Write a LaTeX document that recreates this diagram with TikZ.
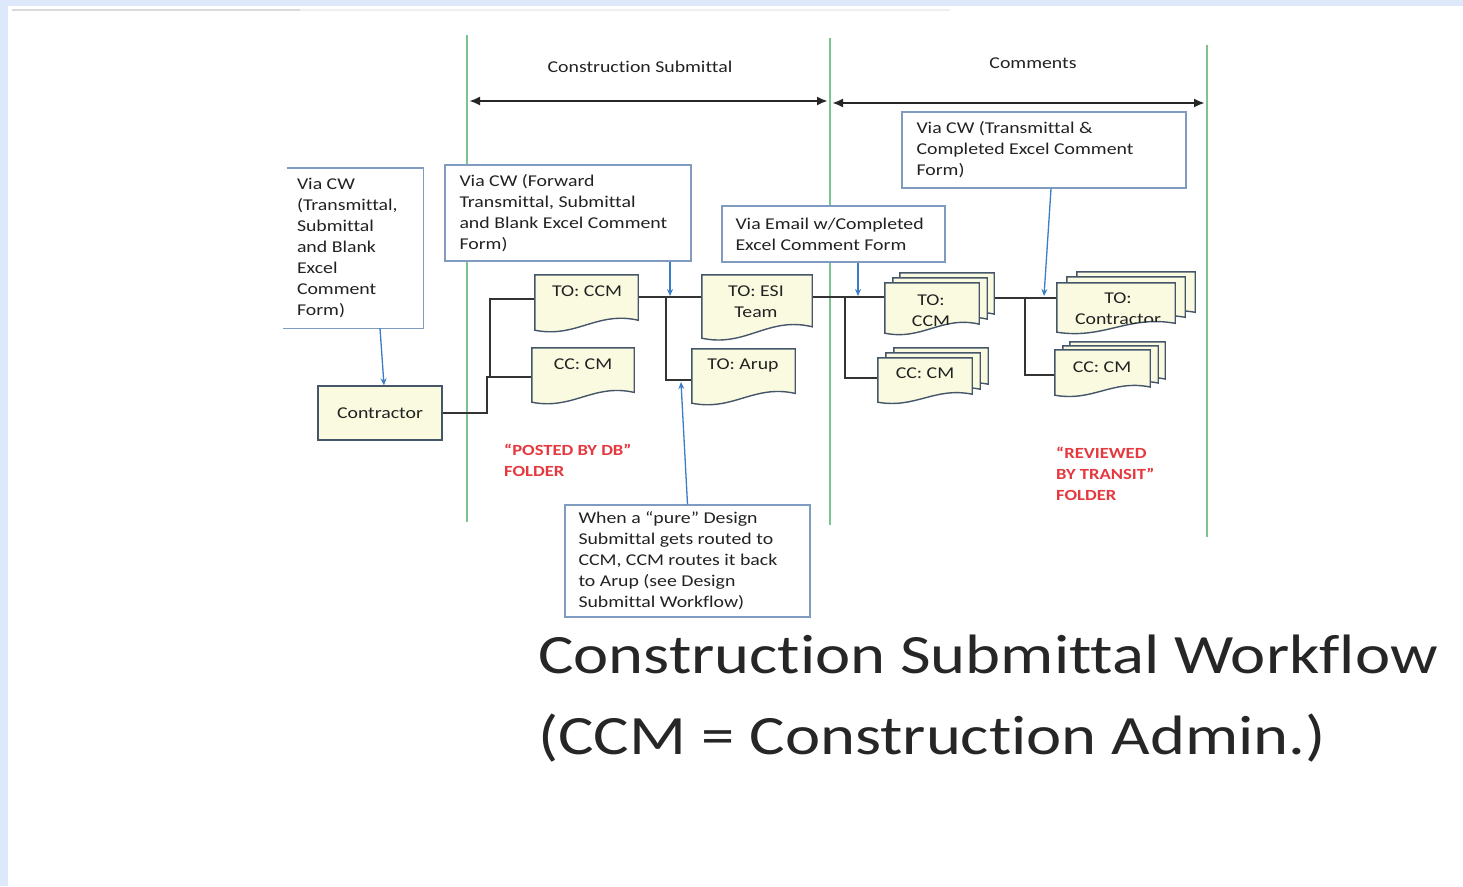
\documentclass[tikz,border=0pt]{standalone}
\usepackage{fontspec}
\setmainfont{Carlito}[FakeStretch=1.2, Ligatures=NoCommon]
\usetikzlibrary{arrows.meta,calc}

\definecolor{pagebg}{HTML}{DDE9FA}
\definecolor{lanegreen}{HTML}{7CC48F}
\definecolor{boxedge}{HTML}{7F9CC0}
\definecolor{docedge}{HTML}{46566A}
\definecolor{docfill}{HTML}{FAFAE0}
\definecolor{flowblue}{HTML}{3A7DC6}
\definecolor{folderred}{HTML}{E5393F}
\definecolor{wirecol}{HTML}{333333}
\definecolor{inkcol}{HTML}{222222}

% document outline (flat top, wavy bottom) built from a node's corners,
% optionally offset by (#3pt, #4pt)
\newcommand\docoutline[4]{%
  \path[#2] let \p1=($(#1.north west)+(#3pt,#4pt)$), \p2=($(#1.south east)+(#3pt,#4pt)$) in
    (\x1,\y1) -- (\x2,\y1) -- (\x2,{\y2+0.18*((\y1)-(\y2))})
    .. controls ({\x1+0.6*((\x2)-(\x1))},{\y2+0.35*((\y1)-(\y2))})
           and ({\x1+0.4*((\x2)-(\x1))},{\y2-0.15*((\y1)-(\y2))}) .. (\x1,\y2) -- cycle;}
\newcommand\docclip[1]{%
  \clip let \p1=(#1.north west), \p2=(#1.south east) in
    (\x1,\y1) -- (\x2,\y1) -- (\x2,{\y2+0.18*((\y1)-(\y2))})
    .. controls ({\x1+0.6*((\x2)-(\x1))},{\y2+0.35*((\y1)-(\y2))})
           and ({\x1+0.4*((\x2)-(\x1))},{\y2-0.15*((\y1)-(\y2))}) .. (\x1,\y2) -- cycle;}
% a stack of three documents, back copies offset up and to the right
\newcommand\docstack[5]{%
  \docoutline{#1}{docbody}{#4}{#5}%
  \docoutline{#1}{docbody}{#2}{#3}%
  \docoutline{#1}{docbody}{0}{0}}

\tikzset{
  lane/.style={draw=lanegreen, line width=2.5pt},
  span/.style={draw=black!85, line width=2.5pt, {Latex[length=11pt,width=9pt]}-{Latex[length=11pt,width=9pt]}},
  hdr/.style={font=\fontsize{16.5}{21}\selectfont, text=inkcol, inner sep=0pt},
  textbox/.style={draw=boxedge, line width=1.4pt, fill=white, inner sep=0pt},
  boxline/.style={draw=boxedge, line width=1.4pt},
  boxtext/.style={font=\fontsize{16.5}{21}\selectfont, text=inkcol, align=left, inner sep=0pt},
  doctext/.style={font=\fontsize{16.5}{21}\selectfont, text=inkcol, align=center, inner sep=0pt},
  docnode/.style={inner sep=0pt},
  docbody/.style={draw=docedge, fill=docfill, line width=1.4pt},
  actor/.style={draw=docedge, fill=docfill, line width=1.4pt, inner sep=0pt,
    font=\fontsize{16.5}{21}\selectfont, text=inkcol},
  wire/.style={draw=wirecol, line width=1.8pt},
  flow/.style={draw=flowblue, line width=1.3pt, -{Stealth[length=7pt,width=6pt]}},
  folder/.style={font=\bfseries\fontsize{15.5}{21}\selectfont, text=folderred, align=left, inner sep=0pt},
  heading/.style={font=\fontsize{55.5}{66}\selectfont, text=black!85, inner sep=0pt},
}

\begin{document}
\begin{tikzpicture}[x=1pt, y=-1pt]
  % paper
  \fill[pagebg] (0,0) rectangle (1463,886);
  \fill[white] (8,6) rectangle (1463,886);
  \useasboundingbox (0,0) rectangle (1463,886);
  \draw[gray!30, line width=1.5pt] (12,10) -- (300,10);
  \draw[gray!12, line width=1.5pt] (300,10) -- (950,10);

  % swim-lane dividers
  \coordinate (l1t) at (467,35);  \coordinate (l1b) at (467,522);
  \coordinate (l2t) at (830,38);  \coordinate (l2b) at (830,525);
  \coordinate (l3t) at (1207,45); \coordinate (l3b) at (1207,537);
  \draw[lane] (l1t) -- (l1b);
  \draw[lane] (l2t) -- (l2b);
  \draw[lane] (l3t) -- (l3b);

  % phase spans
  \coordinate (s1a) at (469,101);  \coordinate (s1b) at (828,101);
  \coordinate (s2a) at (832,103);  \coordinate (s2b) at (1205,103);
  \draw[span] (s1a) -- (s1b);
  \draw[span] (s2a) -- (s2b);
  \node[hdr] (hdr1) at (640,67) {Construction Submittal};
  \node[hdr] (hdr2) at (1033,63) {Comments};

  % transmittal notes
  \node[inner sep=0pt, fill=white, minimum width=136pt, minimum height=160pt] (viacw1) at (355,248) {};
  \draw[boxline] (viacw1.north west) -- (viacw1.north east) -- (viacw1.south east) -- ([xshift=-4pt]viacw1.south west);
  \node[boxtext, anchor=west] (viacw1t) at ([xshift=10pt]viacw1.west)
    {Via CW\\(Transmittal,\\Submittal\\and Blank\\Excel\\Comment\\Form)};

  \node[textbox, minimum width=246pt, minimum height=96pt] (viacw2) at (568,213) {};
  \node[boxtext, anchor=west] (viacw2t) at ([xshift=15pt]viacw2.west)
    {Via CW (Forward\\Transmittal, Submittal\\and Blank Excel Comment\\Form)};

  \node[textbox, minimum width=223pt, minimum height=56pt] (viaemail) at (833.5,234) {};
  \node[boxtext, anchor=west] (viaemailt) at ([xshift=14pt]viaemail.west)
    {Via Email w/Completed\\Excel Comment Form};

  \node[textbox, minimum width=284pt, minimum height=76pt] (viacw3) at (1044,150) {};
  \node[boxtext, anchor=west] (viacw3t) at ([xshift=15pt]viacw3.west)
    {Via CW (Transmittal \&\\Completed Excel Comment\\Form)};

  \node[textbox, minimum width=245pt, minimum height=112pt] (purenote) at (687.5,561) {};
  \node[boxtext, anchor=west] (purenotet) at ([xshift=14pt]purenote.west)
    {When a “pure” Design\\Submittal gets routed to\\CCM, CCM routes it back\\to Arup (see Design\\Submittal Workflow)};

  % contractor
  \node[actor, minimum width=124pt, minimum height=54pt] (contractor) at (380,413) {Contractor};

  % document frames
  \node[docnode, minimum width=103pt, minimum height=55pt] (toccm)   at (586.5,302.5) {};
  \node[docnode, minimum width=102pt, minimum height=54pt] (cccm)    at (583,375) {};
  \node[docnode, minimum width=110pt, minimum height=63pt] (toesi)   at (757,306.5) {};
  \node[docnode, minimum width=103pt, minimum height=54pt] (toarup)  at (743.5,376) {};
  \node[docnode, minimum width=94pt,  minimum height=50pt] (rtoccm)  at (932,308) {};
  \node[docnode, minimum width=94pt,  minimum height=44pt] (rcccm)   at (925,380) {};
  \node[docnode, minimum width=118pt, minimum height=49pt] (tocontr) at (1116,307.5) {};
  \node[docnode, minimum width=95pt,  minimum height=45pt] (cccm2)   at (1102.5,372.5) {};

  % routing wires
  \coordinate (f1) at (487,377);
  \coordinate (t1) at (490,299);
  \draw[wire] (contractor.east) -| (f1) -- (cccm.west |- f1);
  \draw[wire] (t1 |- f1) -- (t1) -- (toccm.west |- t1);

  \coordinate (j1) at (666,297);  \coordinate (k1) at (666,380);
  \draw[wire] (toccm.east |- j1) -- (toesi.west |- j1);
  \draw[wire] (j1) -- (k1) -- (toarup.west |- k1);

  \coordinate (j2) at (845,297);  \coordinate (k2) at (845,378);
  \draw[wire] (toesi.east |- j2) -- (rtoccm.west |- j2);
  \draw[wire] (j2) -- (k2) -- (rcccm.west |- k2);

  \coordinate (j3) at (1025,298); \coordinate (k3) at (1025,375);
  \draw[wire] ([xshift=15pt]rtoccm.east |- j3) -- (tocontr.west |- j3);
  \draw[wire] (j3) -- (k3) -- (cccm2.west |- k3);

  % document shapes
  \docoutline{toccm}{docbody}{0}{0}
  \docoutline{cccm}{docbody}{0}{0}
  \docoutline{toesi}{docbody}{0}{0}
  \docoutline{toarup}{docbody}{0}{0}
  \docstack{rtoccm}{8}{5}{15}{10}
  \docstack{rcccm}{8}{5}{16}{10}
  \docstack{tocontr}{10}{6}{20}{11}
  \docstack{cccm2}{8}{4}{15}{8}

  % document labels
  \node[doctext] (toccmt) at (587,291) {TO: CCM};
  \node[doctext] (cccmt) at (583,364) {CC: CM};
  \node[doctext] (toesit) at (756,301.5) {TO: ESI\\Team};
  \node[doctext] (toarupt) at (743,365) {TO: Arup};
  \begin{scope}
    \docclip{rtoccm}
    \node[doctext] (rtoccmt) at (931,310.5) {TO:\\CCM};
  \end{scope}
  \node[doctext] (rcccmt) at (925,373) {CC: CM};
  \begin{scope}
    \docclip{tocontr}
    \node[doctext] (tocontrt) at (1118,308.5) {TO:\\Contractor};
  \end{scope}
  \node[doctext] (cccm2t) at (1102,367) {CC: CM};

  % hand-off arrows
  \coordinate (j1a) at (670,296);
  \coordinate (j2a) at (858,296);
  \coordinate (j3a) at (1044,296);
  \coordinate (k1a) at (681,382);
  \draw[flow] ([xshift=25pt]viacw1.south) -- ([xshift=4pt]contractor.north);
  \draw[flow] (viacw2.south -| j1a) -- (j1a);
  \draw[flow] (viaemail.south -| j2a) -- (j2a);
  \draw[flow] ([xshift=7pt]viacw3.south) -- (j3a);
  \draw[flow] (purenote.north) -- (k1a);

  % folders
  \node[folder, anchor=west] (posted) at (504,460.5) {“POSTED BY DB”\\FOLDER};
  \node[folder, anchor=west] (reviewed) at (1056,474) {“REVIEWED\\BY TRANSIT”\\FOLDER};

  % caption
  \node[heading, anchor=base west] (title1) at (538,673) {Construction Submittal Workflow};
  \node[heading, anchor=base west] (title2) at (538,754) {(CCM = Construction Admin.)};
\end{tikzpicture}
\end{document}
